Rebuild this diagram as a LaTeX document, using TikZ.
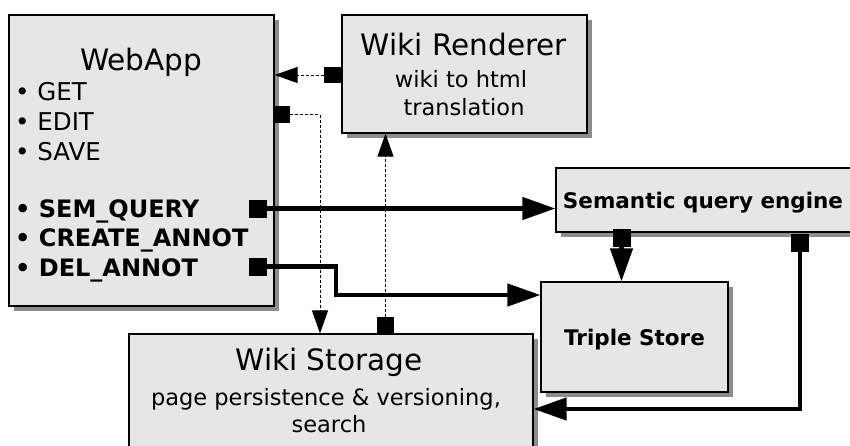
\documentclass[tikz,border=0pt]{standalone}
\usepackage{fontspec}
\setmainfont{DejaVu Sans}
\usepackage{tikz}
\usetikzlibrary{arrows.meta,shadows}

\definecolor{boxfill}{RGB}{230,230,230}
\definecolor{boxshadow}{RGB}{140,140,140}

\tikzset{
  box/.style={draw=black, line width=1.2pt, fill=boxfill, inner sep=0pt,
    drop shadow={shadow xshift=5pt, shadow yshift=-5pt, fill=boxshadow, opacity=1}},
  port/.style={fill=black, inner sep=0pt, minimum width=16pt, minimum height=16pt},
  bigport/.style={port, minimum width=18pt, minimum height=18pt},
  callline/.style={line width=4.5pt, -{Triangle[length=33pt,width=22pt]}},
  dataline/.style={line width=1pt, dash pattern=on 3pt off 2pt, -{Triangle[length=23pt,width=16pt]}},
  titletext/.style={font=\fontsize{29.5}{34}\selectfont, inner sep=0pt, anchor=base},
  subtext/.style={font=\fontsize{22.5}{26}\selectfont, inner sep=0pt, anchor=base},
  itemtext/.style={font=\fontsize{24.5}{28}\selectfont, inner sep=0pt, anchor=base west},
  boldtext/.style={font=\fontsize{21.5}{26}\selectfont\bfseries, inner sep=0pt, anchor=base},
}

\begin{document}
\begin{tikzpicture}[x=1pt,y=-1pt] % one unit = one pixel, y downwards
    \useasboundingbox (0,0) rectangle (850,445);

    % the boxes
    \node[box, minimum width=265pt, minimum height=291pt] (webapp) at (141.5,160.5) {};
    \node[box, minimum width=245pt, minimum height=118pt] (renderer) at (464.5,74) {};
    \node[box, minimum width=304pt, minimum height=64pt] (semantic) at (708,200) {};
    \node[box, minimum width=187pt, minimum height=110pt] (triple) at (634.5,337) {};
    \node[box, minimum width=404pt, minimum height=121pt] (storage) at (331,394.5) {};

    % texts
    \node[titletext] (webtitle) at (141,70) {WebApp};
    \foreach \yb/\txt [count=\i] in {100/GET,130/EDIT,160/SAVE}
        \node[itemtext] (item\i) at (15,\yb) {• \txt};
    \foreach \yb/\txt [count=\i from 4] in {217/SEM\_QUERY,246/CREATE\_ANNOT,276/DEL\_ANNOT}
        \node[itemtext, font=\fontsize{24}{28}\selectfont\bfseries] (item\i) at (15,\yb) {• \txt};

    \node[titletext] (rendtitle) at (464,55) {Wiki Renderer};
    \node[subtext] (rendsuba) at (461,87) {wiki to html};
    \node[subtext] (rendsubb) at (464,115) {translation};

    \node[boldtext] (semtitle) at (703,208) {Semantic query engine};
    \node[boldtext] (tripletitle) at (634.5,345) {Triple Store};

    \node[titletext] (stortitle) at (329,370) {Wiki Storage};
    \node[subtext] (storsuba) at (326,405) {page persistence \& versioning,};
    \node[subtext] (storsubb) at (329,432) {search};

    % ports (the black squares)
    \node[port] (prend) at (332.5,75) {};
    \node[port] (pedit) at (282,114.5) {};
    \node[port] (pstor) at (385.5,325.5) {};
    \node[bigport] (psemq) at (258,208.5) {};
    \node[bigport] (pdel) at (258,266.5) {};
    \node[bigport] (psqts) at (621.5,238) {};
    \node[bigport] (psqws) at (800,242.5) {};

    \coordinate (editdrop) at (320,0);
    \coordinate (delbend) at (336,295);
    \coordinate (sqwsturn) at (800,409);

    % dashed connectors
    \draw[dataline] (prend) -- (prend -| webapp.east);
    \draw[dataline] (pedit) -| (editdrop |- storage.north);
    \draw[dataline] (pstor) -- (pstor |- renderer.south);

    % thick connectors
    \draw[callline] (psemq) -- (psemq -| semantic.west);
    \draw[callline] (pdel) -| (delbend) -- (delbend -| triple.west);
    \draw[callline] (psqts) -- (psqts |- triple.north);
    \draw[callline] (psqws) -- (sqwsturn) -- (sqwsturn -| storage.east);

    % ports on top of the lines
    \foreach \p in {prend,pedit,pstor}
        \fill (\p.north west) rectangle (\p.south east);
\end{tikzpicture}
\end{document}
